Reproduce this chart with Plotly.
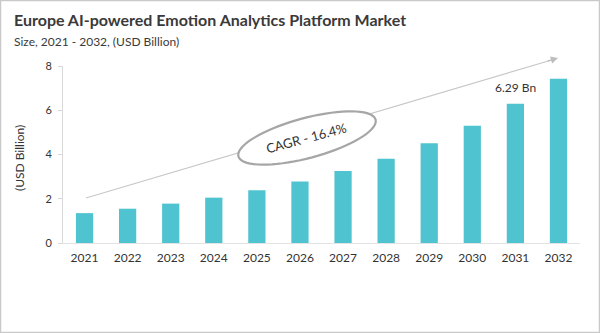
import numpy as np
import plotly.graph_objects as go

years = [2021, 2022, 2023, 2024, 2025, 2026, 2027, 2028, 2029, 2030, 2031, 2032]
values = [1.35, 1.55, 1.78, 2.05, 2.38, 2.78, 3.25, 3.81, 4.51, 5.30, 6.29, 7.42]
y_ticks = [0, 2, 4, 6, 8]

W, H = 600, 333
ML, MR, MT, MB = 63, 20, 66, 90
PW, PH = W - ML - MR, H - MT - MB


def px_x(px):
    return (px - ML) / PW


def px_y(py):
    return (H - MB - py) / PH


FONT = "Lato, 'Open Sans', sans-serif"
BAR = "#4FC3CF"

fig = go.Figure()
fig.add_trace(go.Bar(x=years, y=values, marker=dict(color=BAR, line=dict(width=0)),
                     width=0.4, hoverinfo="x+y"))

# rotated ellipse path (pixel space -> paper)
cx, cy, a, b, th = 307, 138, 71, 20, np.deg2rad(-15)
t = np.linspace(0, 2 * np.pi, 73)
ex = cx + a * np.cos(t) * np.cos(th) - b * np.sin(t) * np.sin(th)
ey = cy + a * np.cos(t) * np.sin(th) + b * np.sin(t) * np.cos(th)
path = "M " + " L ".join(f"{px_x(x):.5f},{px_y(y):.5f}" for x, y in zip(ex, ey)) + " Z"

shapes = [
    dict(type="line", xref="paper", yref="paper",
         x0=px_x(86), y0=px_y(198), x1=px_x(555), y1=px_y(59),
         line=dict(color="#c8c8c8", width=1.2), layer="above"),
    dict(type="path", xref="paper", yref="paper", path=path,
         fillcolor="white", line=dict(color="#a6a6a6", width=2.2), layer="above"),
    dict(type="rect", xref="paper", yref="paper",
         x0=px_x(0.5), y0=px_y(H - 0.5), x1=px_x(W - 0.5), y1=px_y(0.5),
         line=dict(color="#c9c9c9", width=1.5), fillcolor="rgba(0,0,0,0)", layer="above"),
]

annotations = [
    dict(text="<b>Europe AI-powered Emotion Analytics Platform Market</b>", xref="paper", yref="paper",
         x=px_x(12), y=px_y(20), xanchor="left", yanchor="middle", showarrow=False,
         font=dict(family=FONT, size=16, color="#3a3a3a")),
    dict(text="Size, 2021 - 2032, (USD Billion)", xref="paper", yref="paper",
         x=px_x(12), y=px_y(41), xanchor="left", yanchor="middle", showarrow=False,
         font=dict(family=FONT, size=12, color="#3a3a3a")),
    dict(text="(USD Billion)", xref="paper", yref="paper", textangle=-90,
         x=px_x(19), y=px_y(158), xanchor="center", yanchor="middle", showarrow=False,
         font=dict(family=FONT, size=12, color="#333333")),
    dict(text="CAGR - 16.4%", xref="paper", yref="paper", textangle=-15,
         x=px_x(cx - 1), y=px_y(cy), xanchor="center", yanchor="middle", showarrow=False,
         font=dict(family=FONT, size=13, color="#333333")),
    dict(text=f"{values[10]:.2f} Bn", xref="x", yref="y", x=years[10], y=values[10],
         xanchor="center", yanchor="bottom", yshift=7, showarrow=False,
         font=dict(family=FONT, size=12, color="#333333")),
    dict(text="", xref="paper", yref="paper", x=px_x(558), y=px_y(58),
         ax=-12, ay=3.6, axref="pixel", ayref="pixel", showarrow=True,
         arrowhead=2, arrowsize=1.2, arrowwidth=1.2, arrowcolor="#bdbdbd"),
]

fig.update_layout(
    width=W, height=H,
    margin=dict(l=ML, r=MR, t=MT, b=MB),
    paper_bgcolor="white", plot_bgcolor="white",
    showlegend=False,
    font=dict(family=FONT, size=12, color="#333333"),
    shapes=shapes, annotations=annotations,
    xaxis=dict(type="linear", range=[years[0] - 0.5, years[-1] + 0.5], tickvals=years,
               showline=True, linecolor="#e3e3e3", linewidth=1, ticklabelstandoff=4,
               ticks="", showgrid=False, zeroline=False, tickfont=dict(size=12, color="#333333")),
    yaxis=dict(range=[0, 8], tickvals=y_ticks, showline=True, linecolor="#d9d9d9",
               linewidth=1, ticks="outside", ticklen=4, tickcolor="#d9d9d9", ticklabelstandoff=4,
               showgrid=False, zeroline=False, tickfont=dict(size=11, color="#333333")),
)

fig.write_html("out.html")
